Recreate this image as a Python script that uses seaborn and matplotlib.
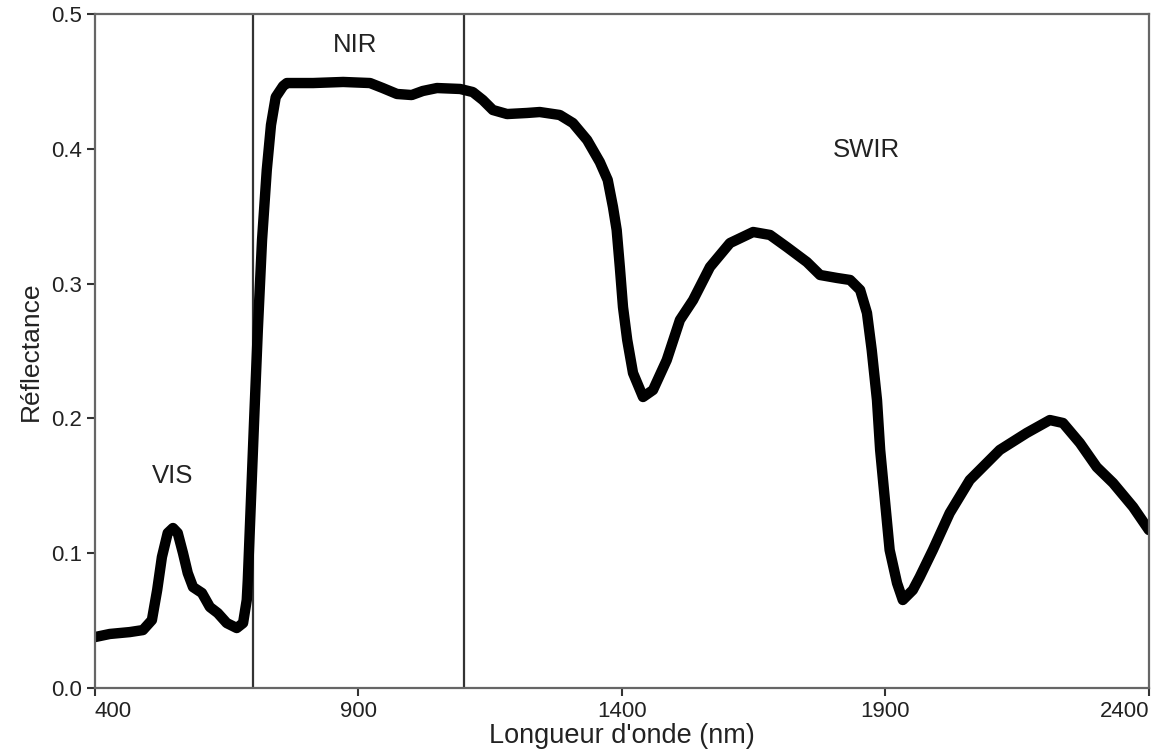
import matplotlib
matplotlib.use("Agg")
import matplotlib.pyplot as plt
import seaborn as sns
import pandas as pd

# Vegetation reflectance spectrum (nm, reflectance)
wavelength = [400, 428, 466, 491, 508, 518, 527, 538, 548, 557, 567, 576, 586, 603,
              618, 633, 650, 669, 681, 688, 690, 696, 702, 709, 717, 726, 734, 743,
              757, 764, 814, 871, 922, 946, 973, 1001, 1022, 1049, 1093, 1117, 1136,
              1155, 1182, 1220, 1244, 1282, 1307, 1334, 1358, 1373, 1383, 1390, 1396,
              1402, 1410, 1421, 1440, 1459, 1485, 1510, 1535, 1567, 1605, 1649, 1681,
              1713, 1751, 1776, 1808, 1833, 1852, 1865, 1874, 1884, 1890, 1899, 1908,
              1922, 1933, 1952, 1965, 1990, 2022, 2060, 2117, 2168, 2212, 2237, 2269,
              2301, 2332, 2370, 2400]
reflectance = [0.0378, 0.0401, 0.0415, 0.0430, 0.0504, 0.0727, 0.0972, 0.1150, 0.1187,
               0.1150, 0.1001, 0.0853, 0.0749, 0.0705, 0.0601, 0.0556, 0.0482, 0.0445,
               0.0482, 0.0653, 0.0801, 0.1395, 0.1988, 0.2656, 0.3323, 0.3843, 0.4177,
               0.4384, 0.4466, 0.4488, 0.4488, 0.4496, 0.4488, 0.4451, 0.4407, 0.4399,
               0.4429, 0.4451, 0.4444, 0.4421, 0.4362, 0.4288, 0.4258, 0.4266, 0.4273,
               0.4251, 0.4191, 0.4065, 0.3902, 0.3769, 0.3568, 0.3398, 0.3123, 0.2826,
               0.2582, 0.2337, 0.2159, 0.2211, 0.2433, 0.2730, 0.2878, 0.3123, 0.3301,
               0.3383, 0.3361, 0.3271, 0.3160, 0.3064, 0.3042, 0.3027, 0.2953, 0.2782,
               0.2507, 0.2136, 0.1766, 0.1395, 0.1024, 0.0779, 0.0653, 0.0727, 0.0823,
               0.1024, 0.1298, 0.1543, 0.1766, 0.1892, 0.1988, 0.1966, 0.1818, 0.1639,
               0.1521, 0.1343, 0.1172]

# Spectral domain boundaries and labels
boundaries = [700, 1100]
region_names = ["VIS", "NIR", "SWIR"]
region_x = [548, 893, 1863]
region_y = [0.157, 0.477, 0.399]

x_ticks = [400, 900, 1400, 1900, 2400]
y_ticks = [0.0, 0.1, 0.2, 0.3, 0.4, 0.5]

sns.set_style("white")
plt.rcParams["font.family"] = ["Liberation Sans", "DejaVu Sans"]

df = pd.DataFrame({"wavelength": wavelength, "reflectance": reflectance})

fig = plt.figure(figsize=(11.57, 7.54), dpi=100)
ax = fig.add_axes([0.0821, 0.0875, 0.9109, 0.8939])

sns.lineplot(data=df, x="wavelength", y="reflectance", ax=ax, color="black",
             linewidth=7.5, solid_joinstyle="round", solid_capstyle="round")

for b in boundaries:
    ax.axvline(b, color="#333333", linewidth=1.6, zorder=1)

for name, tx, ty in zip(region_names, region_x, region_y):
    ax.text(tx, ty, name, ha="center", va="center", fontsize=18.5, color="#222222")

ax.set_xlim(400, 2400)
ax.set_ylim(0, 0.5)
ax.set_xticks(x_ticks)
ax.set_yticks(y_ticks)
ax.set_xticklabels([str(t) for t in x_ticks])
ax.set_yticklabels([f"{t:.1f}" for t in y_ticks])
labels = ax.get_xticklabels()
labels[0].set_horizontalalignment("left")
labels[-1].set_horizontalalignment("right")

ax.tick_params(axis="both", which="major", labelsize=16, colors="#333333",
               length=6, width=1.5, direction="out", bottom=True, left=True, pad=3)
ax.tick_params(axis="both", labelcolor="#222222")

for side in ["left", "right", "top", "bottom"]:
    ax.spines[side].set_visible(True)
    ax.spines[side].set_color("#666666")
    ax.spines[side].set_linewidth(1.6)

ax.set_xlabel("Longueur d'onde (nm)", fontsize=19.5, color="#222222", labelpad=1)
ax.set_ylabel("Réflectance", fontsize=19, color="#222222", labelpad=6)

fig.savefig("out.png", dpi=100)
